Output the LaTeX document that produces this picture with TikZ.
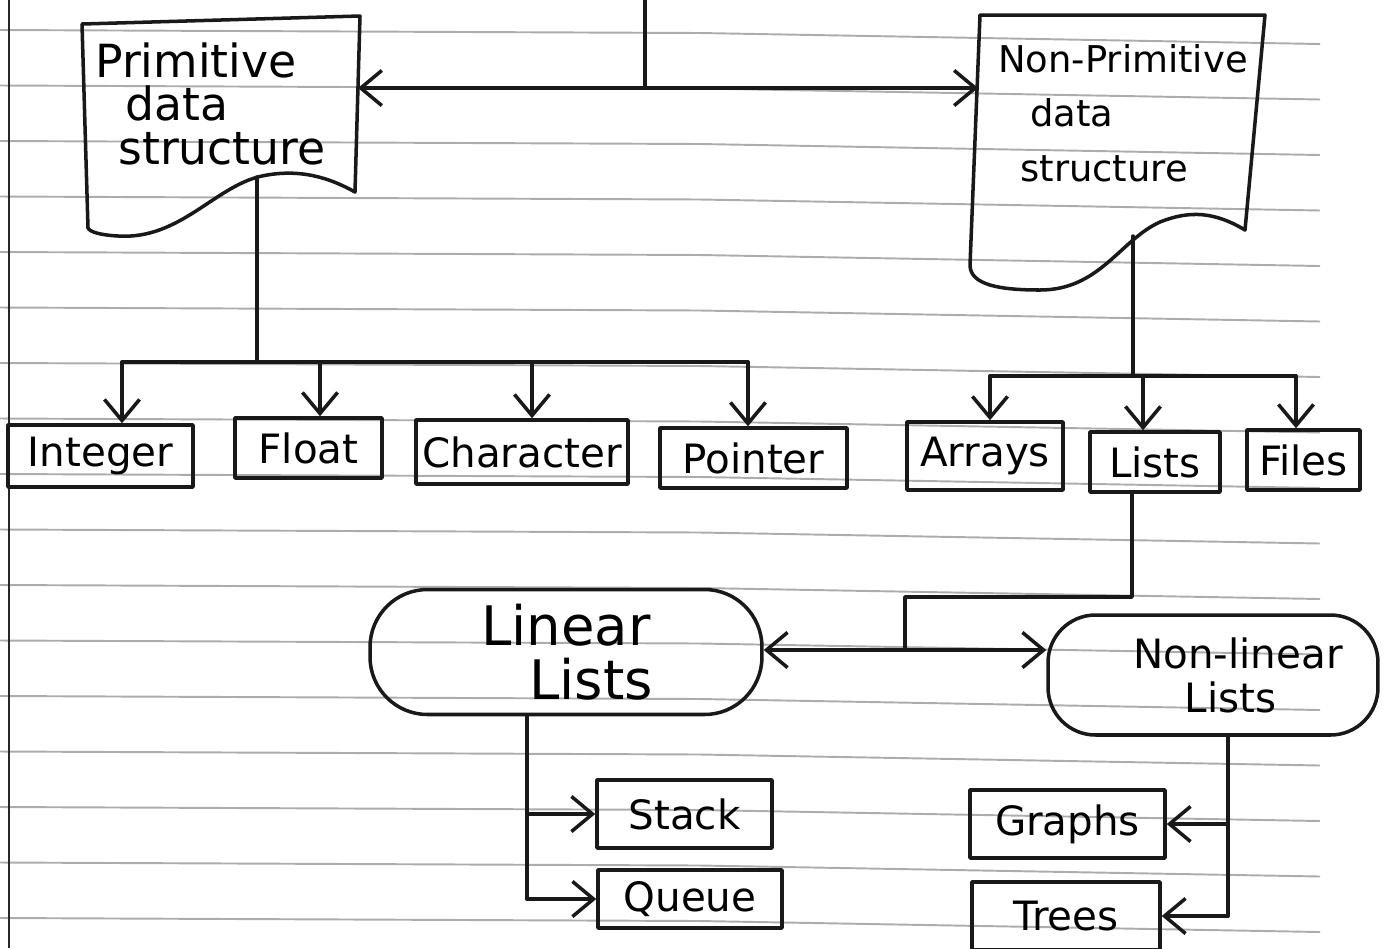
\documentclass[tikz,border=0pt]{standalone}
\usepackage{fontspec}
\setmainfont{DejaVu Sans}
\usetikzlibrary{arrows.meta}
\begin{document}
\begin{tikzpicture}[x=0.02cm, y=-0.02cm,
  ink/.style={line width=2pt, draw=black!90, line cap=round, line join=round},
  arr/.style={ink, -{Straight Barb[length=12pt,width=20pt,line width=2pt]}},
  box/.style={ink, draw, rectangle, inner sep=0pt, font=\fontsize{23}{25}\selectfont},
  rulex/.style={draw=gray!65, line width=1.1pt},
  hdr/.style={inner sep=0pt, align=left, anchor=north west}]
\useasboundingbox (0,0) rectangle (1386,948);
% ruled paper
\foreach \k in {0,...,16}{
  \draw[rulex] (0,{30+55.5*\k}) -- (700,{33+55.5*\k}) -- (1320,{44+55.5*\k});
}
\draw[line width=1.3pt, black!85] (9,0) -- (9,948);

% document shapes
\draw[ink] (82,24) -- (360,16) -- (355,192)
  .. controls (330,178) and (300,168) .. (262,176)
  .. controls (215,186) and (180,240) .. (118,236)
  .. controls (100,235) and (90,232) .. (88,228) -- cycle;
\node[hdr, font=\fontsize{26}{25}\selectfont] (prim) at (95,42)
  {Primitive\\\hspace*{0.6cm}data\\\hspace*{0.46cm}structure};

\draw[ink] (980,15) -- (1265,15) -- (1245,230)
  .. controls (1215,212) and (1190,210) .. (1160,222)
  .. controls (1120,240) and (1100,290) .. (1040,290)
  .. controls (1000,290) and (970,285) .. (970,265) -- cycle;
\node[hdr, font=\fontsize{21}{31}\selectfont] (nonprim) at (998,44)
  {Non-Primitive\\\hspace*{0.64cm}data\\\hspace*{0.44cm}structure};

% level boxes
\node[box, minimum width=3.70cm, minimum height=1.24cm] (int) at (100.5,456) {Integer};
\node[box, minimum width=2.94cm, minimum height=1.20cm] (float) at (308.5,448) {Float};
\node[box, minimum width=4.24cm, minimum height=1.28cm] (char) at (522,452) {Character};
\node[box, minimum width=3.74cm, minimum height=1.20cm] (ptr) at (753.5,458) {Pointer};
\node[box, minimum width=3.12cm, minimum height=1.36cm] (arrays) at (985,456) {Arrays};
\node[box, minimum width=2.60cm, minimum height=1.20cm] (lists) at (1155,462) {Lists};
\node[box, minimum width=2.26cm, minimum height=1.20cm] (files) at (1303.5,460) {Files};

% list kinds
\node[ink, draw, rectangle, rounded corners=1.15cm, minimum width=7.84cm, minimum height=2.5cm,
  align=center, font=\fontsize{31}{31}\selectfont] (lin) at (566,652)
  {Linear\\\hspace*{1cm}Lists};
\node[ink, draw, rectangle, rounded corners=0.95cm, minimum width=6.6cm, minimum height=2.4cm,
  align=center, font=\fontsize{23}{25}\selectfont] (nonlin) at (1213,675)
  {\hspace*{1cm}Non-linear\\\hspace*{0.7cm}Lists};

\node[box, minimum width=3.50cm, minimum height=1.36cm] (stack) at (684.5,814) {Stack};
\node[box, minimum width=3.68cm, minimum height=1.16cm] (queue) at (690,899) {Queue};
\node[box, minimum width=3.90cm, minimum height=1.36cm] (graphs) at (1067.5,824) {Graphs};
\node[box, minimum width=3.76cm, minimum height=1.36cm] (trees) at (1066,916) {Trees};

% top connector
\coordinate (top) at (645,0);
\coordinate (tj) at (645,88);
\coordinate (primR) at (358,0);
\coordinate (npL) at (978,0);
\draw[ink] (top) -- (tj);
\draw[arr] (tj) -- (tj -| primR);
\draw[arr] (tj) -- (tj -| npL);

% primitive branch
\coordinate (primB) at (257,177);
\coordinate (pbar) at (257,362);
\coordinate (pb1) at (122,362);
\coordinate (pb2) at (320,362);
\coordinate (pb3) at (532,362);
\coordinate (pb4) at (748,362);
\draw[ink] (primB) -- (pbar);
\draw[ink] (pb1) -- (pb4);
\draw[arr] (pb1) -- (pb1 |- int.north);
\draw[arr] (pb2) -- (pb2 |- float.north);
\draw[arr] (pb3) -- (pb3 |- char.north);
\draw[arr] (pb4) -- (pb4 |- ptr.north);

% non-primitive branch
\coordinate (npB) at (1133,236);
\coordinate (nbar) at (1133,376);
\coordinate (nb1) at (990,376);
\coordinate (nb2) at (1143,376);
\coordinate (nb3) at (1296,376);
\draw[ink] (npB) -- (nbar);
\draw[ink] (nb1) -- (nb3);
\draw[arr] (nb1) -- (nb1 |- arrays.north);
\draw[arr] (nb2) -- (nb2 |- lists.north);
\draw[arr] (nb3) -- (nb3 |- files.north);

% lists to linear / non-linear
\coordinate (lj) at (1132,597);
\coordinate (lk) at (905,597);
\coordinate (jj) at (905,650);
\draw[ink] (lj |- lists.south) -- (lj) -- (lk) -- (jj);
\draw[arr] (jj) -- (jj -| lin.east);
\draw[arr] (jj) -- (jj -| nonlin.west);

% linear lists branch
\coordinate (ld) at (527,899);
\draw[ink] (ld |- lin.south) -- (ld);
\draw[arr] (ld |- stack.west) -- (stack.west);
\draw[arr] (ld) -- (ld -| queue.west);

% non-linear lists branch
\coordinate (nd) at (1228,916);
\draw[ink] (nd |- nonlin.south) -- (nd);
\draw[arr] (nd |- graphs.east) -- (graphs.east);
\draw[arr] (nd) -- (nd -| trees.east);
\end{tikzpicture}
\end{document}
